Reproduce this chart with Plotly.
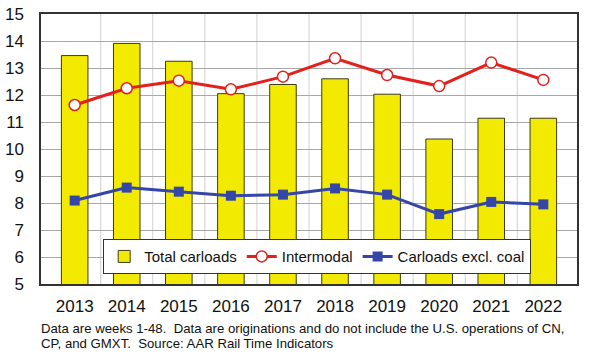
import plotly.graph_objects as go

years = ["2013", "2014", "2015", "2016", "2017", "2018", "2019", "2020", "2021", "2022"]
total_carloads = [13.46, 13.91, 13.25, 12.05, 12.39, 12.60, 12.03, 10.37, 11.14, 11.14]
intermodal = [11.63, 12.25, 12.53, 12.21, 12.68, 13.36, 12.74, 12.33, 13.20, 12.56]
carloads_excl_coal = [8.09, 8.57, 8.42, 8.27, 8.31, 8.54, 8.31, 7.59, 8.04, 7.95]
y_ticks = [5, 6, 7, 8, 9, 10, 11, 12, 13, 14, 15]

fig = go.Figure()
fig.add_trace(go.Bar(
    x=years, y=total_carloads, name="Total carloads",
    marker=dict(color="#f2ea00", line=dict(color="#3a3a1a", width=1)),
))
fig.add_trace(go.Scatter(
    x=years, y=intermodal, name="Intermodal", mode="lines+markers",
    line=dict(color="#e3201c", width=3),
    marker=dict(symbol="circle", size=11, color="white", line=dict(color="#e3201c", width=1.5)),
))
fig.add_trace(go.Scatter(
    x=years, y=carloads_excl_coal, name="Carloads excl. coal", mode="lines+markers",
    line=dict(color="#3446a8", width=3),
    marker=dict(symbol="square", size=10, color="#3446a8"),
))

fig.update_layout(
    width=589, height=354,
    margin=dict(l=41, r=12, t=14, b=70),
    paper_bgcolor="white", plot_bgcolor="white",
    font=dict(family="Liberation Sans, Arial, sans-serif", color="#111111"),
    bargap=0.49,
    showlegend=True,
    legend=dict(
        orientation="h", x=0.116, y=0.166, xanchor="left", yanchor="top",
        bgcolor="white", bordercolor="#333333", borderwidth=1,
        font=dict(size=15), itemwidth=30, tracegroupgap=0,
    ),
    xaxis=dict(
        type="category", showgrid=False, ticks="", tickfont=dict(size=17),
        ticklabelstandoff=6, automargin=False,
        showline=True, linecolor="#333333", linewidth=1.5, mirror=True,
    ),
    yaxis=dict(
        range=[5, 15], tickvals=y_ticks, tickfont=dict(size=17),
        ticklabelstandoff=12, automargin=False,
        showgrid=True, gridcolor="#a8a8a8", gridwidth=1,
        showline=True, linecolor="#333333", linewidth=1.5, mirror=True,
        ticks="", zeroline=False,
    ),
)

# light vertical grid lines at category boundaries
for i in range(1, len(years)):
    fig.add_shape(type="line", xref="x", yref="paper", x0=i - 0.5, x1=i - 0.5, y0=0, y1=1,
                  line=dict(color="#d0d0d0", width=1), layer="below")

fig.add_annotation(
    xref="paper", yref="paper", x=-0.004, y=-0.163, xanchor="left", yanchor="middle",
    text="Data are weeks 1-48.  Data are originations and do not include the U.S. operations of CN,",
    showarrow=False, font=dict(size=13.2, color="#111111"), align="left",
)
fig.add_annotation(
    xref="paper", yref="paper", x=-0.004, y=-0.222, xanchor="left", yanchor="middle",
    text="CP, and GMXT.  Source: AAR Rail Time Indicators",
    showarrow=False, font=dict(size=13.2, color="#111111"), align="left",
)

fig.write_html("out.html")
